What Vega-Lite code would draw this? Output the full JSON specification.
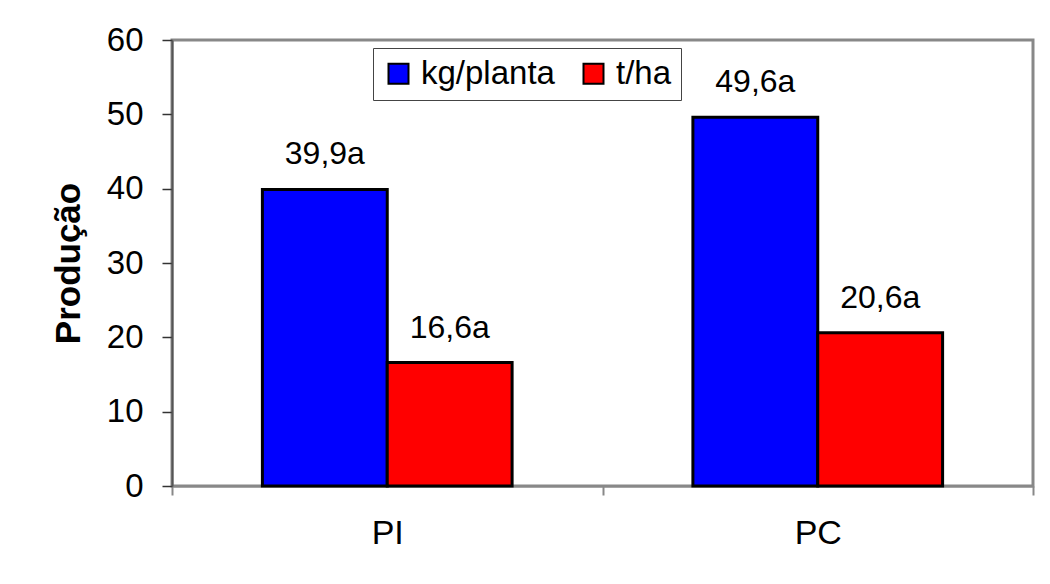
{
  "$schema": "https://vega.github.io/schema/vega-lite/v6.json",
  "width": 861,
  "height": 446,
  "autosize": {"type": "none"},
  "padding": {"left": 172, "top": 40, "right": 17, "bottom": 98},
  "background": "white",
  "config": {
    "font": "Liberation Sans",
    "view": {"stroke": "#888888", "strokeWidth": 3},
    "axis": {"labelColor": "black", "titleColor": "black", "grid": false}
  },
  "data": {
    "values": [
      {"grupo": "PI", "medida": "kg/planta", "valor": 39.9, "letra": "a"},
      {"grupo": "PI", "medida": "t/ha", "valor": 16.6, "letra": "a"},
      {"grupo": "PC", "medida": "kg/planta", "valor": 49.6, "letra": "a"},
      {"grupo": "PC", "medida": "t/ha", "valor": 20.6, "letra": "a"}
    ]
  },
  "transform": [
    {"calculate": "replace(format(datum.valor, '.1f'), '.', ',') + datum.letra", "as": "rotulo"}
  ],
  "encoding": {
    "x": {
      "field": "grupo",
      "type": "nominal",
      "sort": ["PI", "PC"],
      "scale": {"paddingInner": 0, "paddingOuter": 0},
      "axis": {
        "title": null,
        "labelAngle": 0,
        "labelFontSize": 34,
        "labelPadding": 21,
        "tickBand": "extent",
        "tickSize": 9,
        "tickColor": "#888888",
        "tickWidth": 2,
        "domainColor": "#888888",
        "domainWidth": 2
      }
    },
    "xOffset": {
      "field": "medida",
      "type": "nominal",
      "sort": ["kg/planta", "t/ha"],
      "scale": {"paddingInner": 0, "paddingOuter": 0.724}
    },
    "y": {
      "field": "valor",
      "type": "quantitative",
      "scale": {"domain": [0, 60], "nice": false},
      "axis": {
        "values": [0, 10, 20, 30, 40, 50, 60],
        "title": "Produção",
        "titleFontSize": 35,
        "titleFontWeight": "bold",
        "titlePadding": 20,
        "labelFontSize": 33,
        "labelPadding": 19,
        "tickSize": 10,
        "tickColor": "#333333",
        "tickWidth": 1.5,
        "domainColor": "#555555",
        "domainWidth": 2
      }
    }
  },
  "layer": [
    {
      "mark": {"type": "bar", "stroke": "black", "strokeWidth": 3},
      "encoding": {
        "color": {
          "field": "medida",
          "type": "nominal",
          "sort": ["kg/planta", "t/ha"],
          "scale": {"domain": ["kg/planta", "t/ha"], "range": ["#0000FF", "#FF0000"]},
          "legend": {
            "title": null,
            "orient": "none",
            "legendX": 201,
            "legendY": 8,
            "direction": "horizontal",
            "fillColor": "white",
            "strokeColor": "#444444",
            "padding": 9,
            "symbolType": "square",
            "symbolSize": 400,
            "symbolStrokeColor": "black",
            "symbolStrokeWidth": 2,
            "labelFontSize": 33,
            "labelColor": "black",
            "labelOffset": 6,
            "columnPadding": 22
          }
        }
      }
    },
    {
      "mark": {"type": "text", "baseline": "alphabetic", "dy": -25, "fontSize": 32, "color": "black"},
      "encoding": {"text": {"field": "rotulo", "type": "nominal"}}
    }
  ]
}
